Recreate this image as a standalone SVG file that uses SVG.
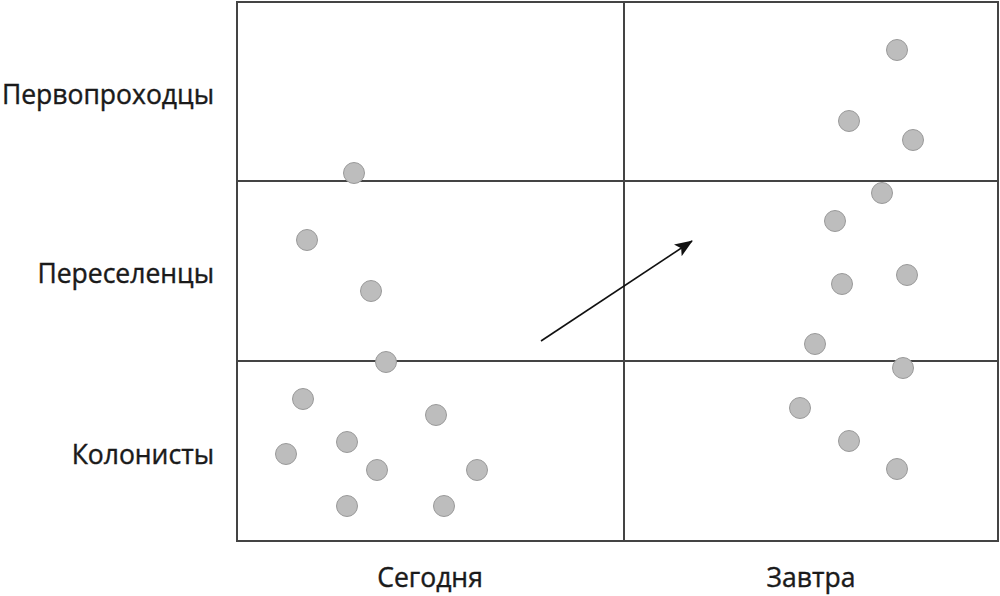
<svg xmlns="http://www.w3.org/2000/svg" width="1000" height="596" viewBox="0 0 1000 596">
<defs>
<style>
.grid{fill:none;stroke:#444;stroke-width:2}
.dot{fill:#bdbdbd;stroke:#9a9a9a;stroke-width:1}
.lbl{font-family:"Open Sans","Noto Sans","Liberation Sans",sans-serif;font-size:26.5px;fill:#1a1a1a;stroke:#1a1a1a;stroke-width:0.4}
.conn{stroke:#111;stroke-width:1.6;fill:none}
</style>
<marker id="ah" markerWidth="18" markerHeight="14" refX="17" refY="7" orient="auto" markerUnits="userSpaceOnUse" viewBox="0 0 18 14">
<path d="M0,0 L18,7 L0,14 L4,7 Z" fill="#111"/>
</marker>
</defs>
<rect width="1000" height="596" fill="#fff"/>
<g id="grid">
<rect class="grid" x="237" y="2" width="761" height="539"/>
<line class="grid" x1="624" y1="2" x2="624" y2="541"/>
<line class="grid" x1="237" y1="181" x2="998" y2="181"/>
<line class="grid" x1="237" y1="361" x2="998" y2="361"/>
</g>
<g id="labels">
<text class="lbl" x="214" y="104" text-anchor="end">Первопроходцы</text>
<text class="lbl" x="214" y="283" text-anchor="end">Переселенцы</text>
<text class="lbl" x="214" y="464" text-anchor="end">Колонисты</text>
<text class="lbl" x="430" y="587" text-anchor="middle">Сегодня</text>
<text class="lbl" x="811" y="587" text-anchor="middle">Завтра</text>
</g>
<g id="today">
<circle class="dot" cx="354" cy="173" r="10.5"/>
<circle class="dot" cx="307" cy="240" r="10.5"/>
<circle class="dot" cx="371" cy="291" r="10.5"/>
<circle class="dot" cx="386" cy="362" r="10.5"/>
<circle class="dot" cx="303" cy="399" r="10.5"/>
<circle class="dot" cx="436" cy="415" r="10.5"/>
<circle class="dot" cx="347" cy="442" r="10.5"/>
<circle class="dot" cx="286" cy="454" r="10.5"/>
<circle class="dot" cx="377" cy="470" r="10.5"/>
<circle class="dot" cx="477" cy="470" r="10.5"/>
<circle class="dot" cx="347" cy="506" r="10.5"/>
<circle class="dot" cx="444" cy="506" r="10.5"/>
</g>
<g id="tomorrow">
<circle class="dot" cx="897" cy="50" r="10.5"/>
<circle class="dot" cx="849" cy="121" r="10.5"/>
<circle class="dot" cx="913" cy="140" r="10.5"/>
<circle class="dot" cx="882" cy="193" r="10.5"/>
<circle class="dot" cx="835" cy="221" r="10.5"/>
<circle class="dot" cx="907" cy="275" r="10.5"/>
<circle class="dot" cx="842" cy="284" r="10.5"/>
<circle class="dot" cx="815" cy="344" r="10.5"/>
<circle class="dot" cx="903" cy="368" r="10.5"/>
<circle class="dot" cx="800" cy="408" r="10.5"/>
<circle class="dot" cx="849" cy="441" r="10.5"/>
<circle class="dot" cx="897" cy="469" r="10.5"/>
</g>
<g id="connectors">
<line class="conn" x1="541" y1="341" x2="692" y2="241" marker-end="url(#ah)"/>
</g>
</svg>
